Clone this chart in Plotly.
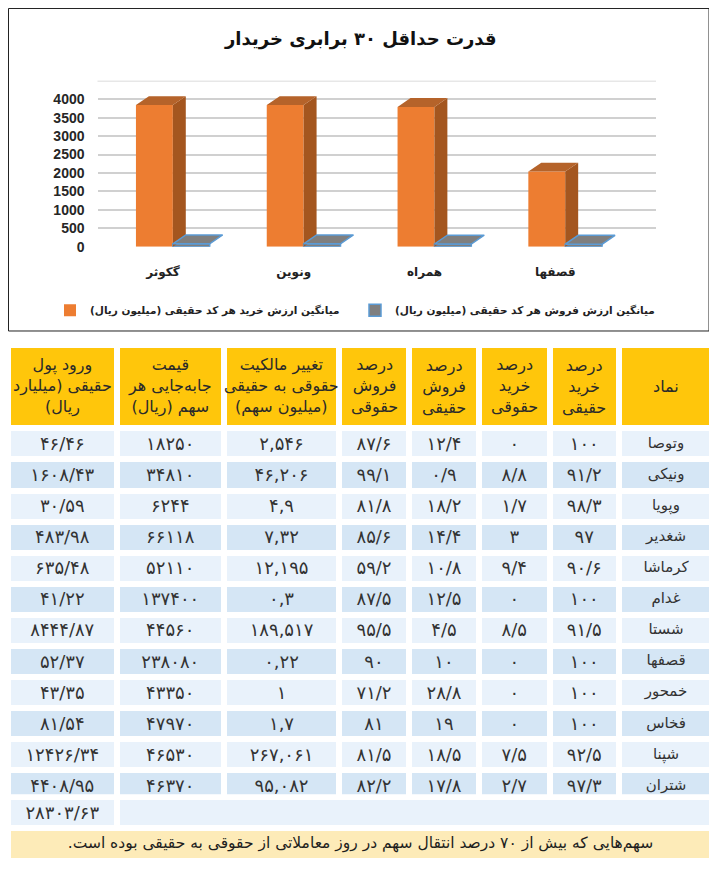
import plotly.graph_objects as go

# the page body keeps its 8px margin, so the figure is a bit smaller
# and every position below is measured on the full 717x874 page
OFF = 8
W, H = 717 - OFF, 874 - OFF

# bar chart data (million rials)
stocks = ["گکوثر", "ونوین", "همراه", "قصفها"]
buy_avg = [3840, 3840, 3790, 2040]
sell_avg = [80, 80, 75, 70]
y_ticks = [0, 500, 1000, 1500, 2000, 2500, 3000, 3500, 4000]

# table data
symbols = ["وتوصا", "ونیکی", "وپویا", "شغدیر", "کرماشا", "غدام",
           "شستا", "قصفها", "خمحور", "فخاس", "شپنا", "شتران"]
real_buy_pct = [100, 91.2, 98.3, 97, 90.6, 100, 91.5, 100, 100, 100, 92.5, 97.3]
legal_buy_pct = [0, 8.8, 1.7, 3, 9.4, 0, 8.5, 0, 0, 0, 7.5, 2.7]
real_sell_pct = [12.4, 0.9, 18.2, 14.4, 10.8, 12.5, 4.5, 10, 28.8, 19, 18.5, 17.8]
legal_sell_pct = [87.6, 99.1, 81.8, 85.6, 59.2, 87.5, 95.5, 90, 71.2, 81, 81.5, 82.2]
ownership_change = [2.546, 46.206, 4.9, 7.32, 12.195, 0.3, 189.517, 0.22, 1, 1.7, 267.061, 95.082]
transfer_price = [18250, 34810, 6244, 66118, 52110, 137400, 44560, 238080, 43350, 47970, 46530, 46370]
money_inflow = [46.46, 1608.43, 30.59, 483.98, 635.48, 41.22, 8444.87, 52.37, 43.35, 81.54, 12426.34, 4408.95]
money_total = 28303.63

headers = [
    "ورود پول<br>حقیقی (میلیارد<br>ریال)",
    "قیمت<br>جابه‌جایی هر<br>سهم (ریال)",
    "تغییر مالکیت<br>حقوقی به حقیقی<br>(میلیون سهم)",
    "درصد<br>فروش<br>حقوقی",
    "درصد<br>فروش<br>حقیقی",
    "درصد<br>خرید<br>حقوقی",
    "درصد<br>خرید<br>حقیقی",
    "نماد",
]
footnote = "سهم‌هایی که بیش از ۷۰ درصد انتقال سهم در روز معاملاتی از حقوقی به حقیقی بوده است."

FA = str.maketrans("0123456789", "۰۱۲۳۴۵۶۷۸۹")
RLM = "\u200f"


def fa(v, sep="/"):
    return str(v).replace(".", sep).translate(FA)


def rtl(s):
    return "<br>".join(RLM + p + RLM for p in s.split("<br>"))


def X(px):
    return (px - OFF) / W


def Y(px):
    return 1 - (px - OFF) / H


PERSIAN = "DejaVu Sans"
orange, orange_side, orange_top = "#ed7d31", "#a4561f", "#b5632a"
blue, slab_top = "#5b9bd5", "#7f7f7f"
light_row, dark_row = "#e9f2fb", "#d5e6f5"

fig = go.Figure()

# 3D-ish faces of the columns, built from the values
dx, dy = 0.099, 240
bw = 0.282
side_x, side_y, top_x, top_y = [], [], [], []
stop_x, stop_y = [], []
for i, v in enumerate(buy_avg):
    x0, x1 = i - 0.206, i - 0.206 + bw
    side_x += [x1, x1 + dx, x1 + dx, x1, x1, None]
    side_y += [0, dy, v + dy, v, 0, None]
    top_x += [x0, x0 + dx, x1 + dx, x1, x0, None]
    top_y += [v, v + dy, v + dy, v, v, None]
for i, v in enumerate(sell_avg):
    x0, x1 = i + 0.076, i + 0.076 + bw
    stop_x += [x0, x0 + dx, x1 + dx, x1, x0, None]
    stop_y += [v, v + dy, v + dy, v, v, None]

fig.add_trace(go.Bar(
    x=list(range(len(stocks))), y=buy_avg, offset=-0.206, width=bw,
    marker=dict(color=orange, line=dict(width=0)),
    name=rtl("میانگین ارزش خرید هر کد حقیقی (میلیون ریال)"),
    hoverinfo="skip",
))
fig.add_trace(go.Scatter(x=side_x, y=side_y, fill="toself", mode="none",
                         fillcolor=orange_side, showlegend=False, hoverinfo="skip"))
fig.add_trace(go.Scatter(x=top_x, y=top_y, fill="toself", mode="none",
                         fillcolor=orange_top, showlegend=False, hoverinfo="skip"))
fig.add_trace(go.Bar(
    x=list(range(len(stocks))), y=sell_avg, offset=0.076, width=bw,
    marker=dict(color=slab_top, line=dict(color=blue, width=1.5)),
    name=rtl("میانگین ارزش فروش هر کد حقیقی (میلیون ریال)"),
    hoverinfo="skip",
))
fig.add_trace(go.Scatter(x=stop_x, y=stop_y, fill="toself", mode="lines",
                         line=dict(color=blue, width=1.5),
                         fillcolor=slab_top, showlegend=False, hoverinfo="skip"))

# main table
cols = [
    [fa(v) for v in money_inflow],
    [fa(v) for v in transfer_price],
    [fa(v, ",") for v in ownership_change],
    [fa(v) for v in legal_sell_pct],
    [fa(v) for v in real_sell_pct],
    [fa(v) for v in legal_buy_pct],
    [fa(v) for v in real_buy_pct],
    symbols,
]
row_fill = [light_row if r % 2 == 0 else dark_row for r in range(len(symbols))]
edges = [8, 116.5, 224, 339, 409, 479, 549.5, 619, 713]
widths = [b - a for a, b in zip(edges[:-1], edges[1:])]
head_top, head_h, row_h = 348, 83.5, 31.1
table_bottom = head_top + head_h + row_h * len(symbols)

fig.add_trace(go.Table(
    domain=dict(x=[X(edges[0]), X(edges[-1])], y=[Y(table_bottom + 3), Y(head_top)]),
    columnwidth=widths,
    header=dict(
        values=[""] * len(headers),
        fill_color="#ffc60b",
        line=dict(color="white", width=6),
        height=head_h,
    ),
    cells=dict(
        values=cols,
        fill_color=[row_fill] * len(cols),
        line=dict(color="white", width=6),
        align="center",
        height=row_h,
        font=dict(family=PERSIAN, size=[18] * 7 + [15], color="#333333"),
    ),
))

# total row
fig.add_trace(go.Table(
    domain=dict(x=[X(edges[0]), X(edges[-1])], y=[Y(table_bottom + row_h + 2), Y(table_bottom)]),
    columnwidth=[widths[0], sum(widths[1:])],
    header=dict(
        values=[fa(money_total), ""],
        fill_color=light_row,
        line=dict(color="white", width=6),
        align="center",
        height=row_h,
        font=dict(family=PERSIAN, size=18, color="#333333"),
    ),
    cells=dict(values=[[], []], height=1, line=dict(width=0)),
))

# footnote
foot_top = table_bottom + row_h
fig.add_trace(go.Table(
    domain=dict(x=[X(edges[0]), X(edges[-1])], y=[0, Y(foot_top)]),
    header=dict(
        values=[rtl(footnote)],
        fill_color="#fdebb8",
        line=dict(color="white", width=6),
        align="center",
        height=33,
        font=dict(family=PERSIAN, size=15.5, color="#1e1e1e"),
    ),
    cells=dict(values=[[]], height=1, line=dict(width=0)),
))

# header labels, each line centred in its column
annotations = [dict(
    text=rtl(h),
    x=X((a + b) / 2), y=Y(head_top + head_h / 2),
    xref="paper", yref="paper", xanchor="center", yanchor="middle",
    align="center", showarrow=False,
    font=dict(family=PERSIAN, size=16, color="#2a2a2a"),
) for h, a, b in zip(headers, edges[:-1], edges[1:])]

annotations.append(dict(
    text=rtl("قدرت حداقل ۳۰ برابری خریدار"),
    x=X(360), y=Y(39), xref="paper", yref="paper",
    xanchor="center", yanchor="middle", showarrow=False,
    font=dict(family=PERSIAN, size=18, color="#111111", weight="bold"),
))

fig.update_layout(
    width=W,
    height=H,
    margin=dict(l=0, r=0, t=0, b=0),
    paper_bgcolor="white",
    plot_bgcolor="white",
    barmode="overlay",
    xaxis=dict(
        domain=[X(97.5), X(656)],
        range=[-0.5, 3.77],
        tickvals=list(range(len(stocks))),
        ticktext=stocks,
        showgrid=False,
        zeroline=False,
        ticks="",
        ticklabelstandoff=16,
        tickfont=dict(family=PERSIAN, size=12, color="#222222", weight="bold"),
        fixedrange=True,
    ),
    yaxis=dict(
        domain=[Y(249), Y(81.4)],
        range=[0, 4500],
        tickvals=y_ticks,
        showgrid=True,
        gridcolor="#d0d0d0",
        gridwidth=1.5,
        zeroline=False,
        ticks="",
        ticklabelstandoff=12,
        tickfont=dict(family="Liberation Sans", size=14, color="#262626", weight="bold"),
        fixedrange=True,
    ),
    legend=dict(
        orientation="h",
        x=X(50),
        xanchor="left",
        y=Y(313),
        yanchor="middle",
        entrywidth=260,
        entrywidthmode="pixels",
        font=dict(family=PERSIAN, size=10.5, color="#222222", weight="bold"),
        bgcolor="rgba(0,0,0,0)",
    ),
    annotations=annotations,
    shapes=[
        dict(type="rect", xref="paper", yref="paper",
             x0=X(8.5), x1=X(709), y0=Y(334), y1=Y(8.5),
             line=dict(color="#222222", width=1)),
        # top back-wall gridline of the chart
        dict(type="line", xref="paper", yref="y",
             x0=X(97.5), x1=X(656), y0=4500, y1=4500,
             line=dict(color="#d0d0d0", width=1.5), layer="below"),
    ],
)

fig.write_html("out.html")
